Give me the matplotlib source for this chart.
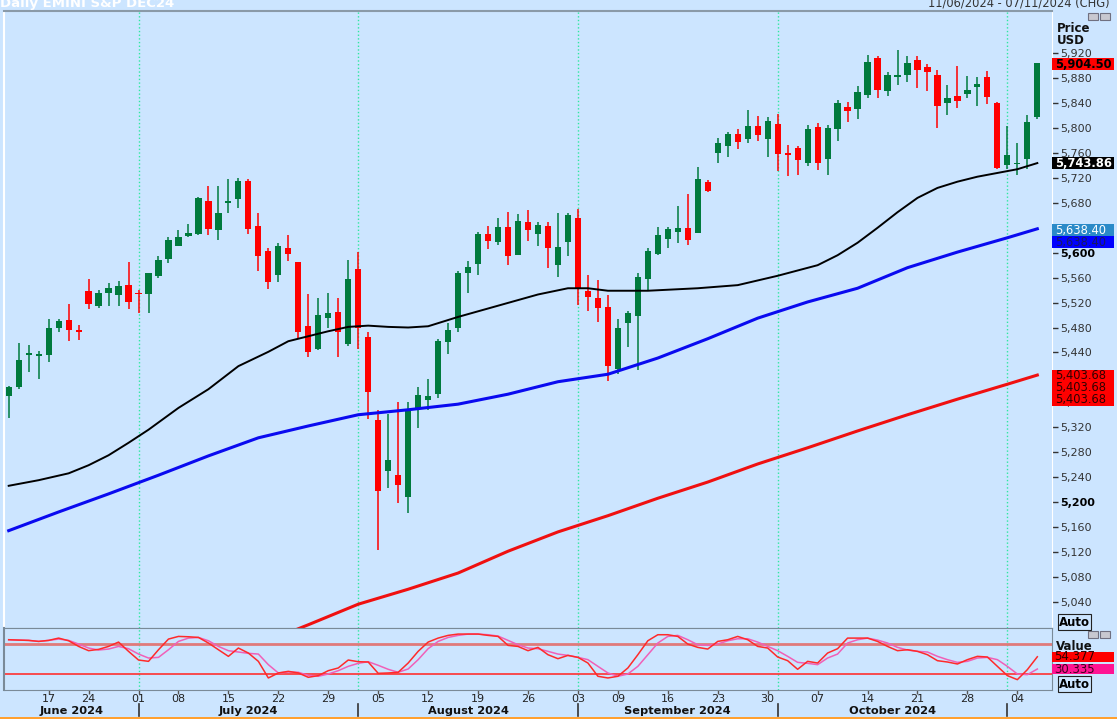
import numpy as np
import matplotlib.pyplot as plt
from matplotlib.patches import Rectangle
from matplotlib.transforms import blended_transform_factory

BG = '#cce5ff'
UP = '#007a3d'
DN = '#ff0000'

# daily OHLC, 11 Jun 2024 - 06 Nov 2024
opens = [5370, 5385, 5436, 5435, 5436, 5480, 5492, 5476, 5539, 5515,
         5535, 5532, 5548, 5535, 5533, 5563, 5590, 5611, 5627, 5630,
         5683, 5637, 5679, 5687, 5715, 5643, 5602, 5564, 5608, 5585,
         5483, 5445, 5496, 5505, 5453, 5574, 5464, 5332, 5250, 5243,
         5208, 5349, 5364, 5373, 5457, 5480, 5567, 5582, 5630, 5618,
         5642, 5596, 5650, 5630, 5643, 5580, 5617, 5656, 5539, 5528,
         5513, 5413, 5488, 5498, 5558, 5598, 5622, 5633, 5639, 5631,
         5714, 5760, 5772, 5791, 5782, 5803, 5782, 5806, 5760, 5768,
         5744, 5801, 5751, 5798, 5834, 5830, 5853, 5913, 5860, 5882,
         5886, 5909, 5898, 5886, 5841, 5852, 5855, 5866, 5882, 5840,
         5741, 5742, 5750, 5818]
highs = [5386, 5455, 5452, 5443, 5494, 5494, 5518, 5484, 5558, 5540,
         5552, 5555, 5585, 5540, 5568, 5595, 5626, 5636, 5646, 5690,
         5707, 5707, 5718, 5720, 5718, 5664, 5608, 5616, 5629, 5585,
         5533, 5528, 5535, 5528, 5588, 5601, 5473, 5348, 5342, 5361,
         5361, 5385, 5397, 5461, 5487, 5571, 5587, 5633, 5643, 5655,
         5665, 5662, 5668, 5649, 5649, 5663, 5664, 5670, 5564, 5557,
         5532, 5493, 5507, 5567, 5607, 5641, 5642, 5675, 5695, 5737,
         5717, 5784, 5794, 5798, 5829, 5820, 5818, 5822, 5773, 5771,
         5805, 5808, 5805, 5845, 5842, 5868, 5917, 5915, 5890, 5926,
         5915, 5915, 5903, 5893, 5869, 5900, 5884, 5882, 5892, 5842,
         5803, 5776, 5821, 5905]
lows = [5335, 5381, 5409, 5398, 5425, 5473, 5459, 5460, 5510, 5511,
        5515, 5515, 5510, 5504, 5503, 5559, 5584, 5610, 5626, 5629,
        5629, 5621, 5664, 5672, 5630, 5570, 5541, 5553, 5587, 5461,
        5432, 5444, 5480, 5432, 5451, 5445, 5333, 5123, 5222, 5198,
        5182, 5319, 5348, 5367, 5438, 5472, 5536, 5564, 5606, 5612,
        5581, 5596, 5619, 5611, 5575, 5561, 5594, 5516, 5506, 5489,
        5394, 5405, 5448, 5412, 5540, 5597, 5608, 5616, 5612, 5631,
        5698, 5744, 5754, 5766, 5776, 5780, 5754, 5731, 5723, 5724,
        5739, 5733, 5724, 5780, 5810, 5814, 5848, 5848, 5852, 5869,
        5874, 5864, 5860, 5800, 5821, 5833, 5848, 5836, 5838, 5734,
        5735, 5724, 5735, 5814]
closes = [5384, 5428, 5439, 5437, 5479, 5490, 5476, 5472, 5517, 5536,
          5543, 5546, 5521, 5534, 5568, 5589, 5621, 5625, 5631, 5688,
          5638, 5664, 5683, 5715, 5638, 5594, 5553, 5611, 5598, 5472,
          5441, 5500, 5503, 5472, 5558, 5479, 5376, 5218, 5267, 5228,
          5348, 5371, 5370, 5459, 5476, 5567, 5577, 5630, 5619, 5641,
          5594, 5651, 5636, 5644, 5608, 5609, 5660, 5543, 5529, 5512,
          5419, 5480, 5504, 5561, 5602, 5629, 5638, 5639, 5620, 5718,
          5699, 5776, 5791, 5778, 5803, 5789, 5812, 5758, 5757, 5748,
          5798, 5744, 5800, 5841, 5827, 5858, 5906, 5861, 5886, 5886,
          5904, 5894, 5890, 5836, 5848, 5844, 5861, 5870, 5850, 5736,
          5757, 5744, 5810, 5904.5]

# moving averages read at sample bars
ma_black_idx = [0, 3, 6, 8, 10, 12, 14, 17, 20, 23, 26, 28, 30, 32, 34, 36, 38, 40,
                42, 45, 49, 53, 56, 58, 60, 64, 69, 73, 77, 81, 83, 85, 87, 89, 91,
                93, 95, 97, 99, 101, 103]
ma_black = [5226, 5235, 5246, 5259, 5275, 5295, 5316, 5351, 5381, 5418, 5441, 5458,
            5466, 5474, 5481, 5483, 5481, 5480, 5482, 5497, 5515, 5533, 5543, 5543,
            5539, 5539, 5543, 5548, 5563, 5580, 5596, 5616, 5640, 5665, 5688, 5704,
            5714, 5722, 5728, 5734, 5743.86]
ma_blue_idx = [0, 5, 10, 15, 20, 25, 30, 35, 40, 45, 50, 55, 60, 65, 70, 75, 80, 85,
               90, 95, 100, 103]
ma_blue = [5154, 5184, 5213, 5243, 5274, 5303, 5322, 5340, 5348, 5357, 5373, 5393,
           5405, 5431, 5462, 5495, 5521, 5543, 5576, 5601, 5624, 5638.40]
ma_red_idx = [25, 30, 35, 40, 45, 50, 55, 60, 65, 70, 75, 80, 85, 90, 95, 100, 103]
ma_red = [4971, 5003, 5036, 5060, 5086, 5121, 5152, 5178, 5206, 5232, 5261, 5287,
          5314, 5340, 5365, 5389, 5403.68]

# stochastic oscillator
stoch_k = [87.8, 87.1, 86.5, 84.5, 86.5, 91.0, 85.8, 74.7, 66.3, 68.9,
           74.7, 83.2, 65.0, 48.0, 45.4, 68.2, 89.1, 94.3, 93.6, 92.3,
           81.3, 68.2, 55.2, 71.5, 61.7, 45.4, 12.8, 22.6, 25.8, 22.6,
           14.1, 17.4, 27.1, 32.4, 48.0, 44.7, 44.1, 21.9, 22.6, 23.9,
           42.1, 65.0, 83.2, 91.0, 96.3, 98.9, 98.9, 98.9, 96.3, 94.3,
           76.7, 74.7, 66.3, 72.8, 58.4, 50.6, 57.1, 53.2, 42.1, 16.1,
           12.8, 16.1, 32.4, 58.4, 85.8, 97.6, 97.6, 94.3, 79.3, 72.8,
           69.5, 84.5, 87.8, 94.3, 87.8, 74.7, 71.5, 53.9, 46.7, 29.8,
           45.4, 42.1, 61.7, 70.2, 91.0, 91.0, 91.0, 84.5, 74.7, 66.3,
           68.2, 65.0, 58.4, 46.7, 44.1, 40.2, 48.7, 55.2, 53.9, 35.6,
           17.4, 9.5, 29.1, 54.377]
stoch_d = [87.8, 87.1, 86.5, 84.5, 86.5, 89.1, 86.5, 79.3, 71.5, 67.6,
           69.5, 74.7, 70.2, 59.7, 51.9, 53.2, 68.2, 84.5, 91.0, 92.3,
           85.8, 74.7, 66.3, 63.7, 61.1, 59.7, 38.9, 22.6, 24.5, 23.9,
           18.0, 16.1, 20.6, 27.1, 35.6, 41.5, 44.7, 37.6, 29.8, 23.9,
           30.4, 48.7, 70.2, 84.5, 92.3, 96.3, 98.9, 98.9, 97.6, 95.0,
           86.5, 78.0, 71.5, 70.2, 65.0, 59.7, 57.1, 53.2, 48.7, 35.6,
           22.6, 16.1, 20.6, 35.6, 58.4, 81.3, 94.3, 96.3, 87.8, 78.0,
           76.7, 79.3, 85.8, 89.7, 89.7, 83.2, 74.7, 66.3, 55.2, 43.4,
           41.5, 38.9, 51.9, 59.7, 81.3, 87.8, 91.0, 87.1, 81.3, 72.8,
           67.6, 65.0, 63.7, 55.2, 48.7, 43.4, 45.4, 51.9, 53.2, 48.7,
           35.6, 20.6, 19.3, 30.335]

day_idx = [4, 8, 13, 17, 22, 27, 32, 37, 42, 47, 52, 57, 61, 66, 71, 76, 81, 86, 91, 96, 101]
day_lbl = ['17', '24', '01', '08', '15', '22', '29', '05', '12', '19', '26',
           '03', '09', '16', '23', '30', '07', '14', '21', '28', '04']
month_start = [13, 35, 57, 77, 100]
month_names = ['June 2024', 'July 2024', 'August 2024', 'September 2024', 'October 2024']

W, H = 1117, 719
def fx(px):
    return px / W
def fy(py):
    return 1 - py / H

fig = plt.figure(figsize=(W / 100, H / 100), dpi=100, facecolor=BG)
ax = fig.add_axes([fx(4), fy(628), fx(1052) - fx(4), fy(11) - fy(628)], facecolor=BG)
ao = fig.add_axes([fx(4), fy(690), fx(1052) - fx(4), fy(628) - fy(690)], facecolor=BG, sharex=ax)

x = np.arange(len(opens))
o = np.array(opens); h = np.array(highs); l = np.array(lows); c = np.array(closes)
col = np.where(c >= o, UP, DN)

for m in month_start:
    ax.axvline(m, color='#2ee8a0', ls=':', lw=1, zorder=1)
    ao.axvline(m, color='#2ee8a0', ls=':', lw=1, zorder=1)

ax.vlines(x, l, h, colors=col, lw=1.1, zorder=3)
body = np.maximum(np.abs(c - o), 1.6)
ax.bar(x, body, bottom=np.minimum(o, c), width=0.62, color=col, zorder=4, linewidth=0)

ax.plot(ma_black_idx, ma_black, color='black', lw=1.4, zorder=5)
ax.plot(ma_blue_idx, ma_blue, color='#0a0af0', lw=2.2, zorder=5)
ax.plot(ma_red_idx, ma_red, color='#f01010', lw=2.2, zorder=5)

ax.set_xlim(-0.47, 104.47)
ax.set_ylim(4997.8, 5987.9)
ticks = np.arange(5040, 5921, 40)
ax.yaxis.tick_right()
ax.set_yticks(ticks)
# 5,640 and 5,400 sit under the price tags
ax.set_yticklabels(['' if t in (5640, 5400) else '{:,}'.format(t) for t in ticks])
ax.tick_params(axis='y', direction='out', length=4, width=1, colors='#333333',
               labelsize=8, pad=2)
for t, lab in zip(ticks, ax.get_yticklabels()):
    if t in (5200, 5600):
        lab.set_fontweight('bold')
        lab.set_color('black')
ax.tick_params(axis='x', bottom=False, labelbottom=False)
ax.spines['left'].set_color('white')
ax.spines['left'].set_linewidth(1.5)
ax.spines['right'].set_color('white')
ax.spines['top'].set_color('#8a9aa8')
ax.spines['top'].set_linewidth(1.5)
ax.spines['bottom'].set_color('#7a8a98')

# price tags on the right edge
tr = blended_transform_factory(ax.transAxes, ax.transData)
def tag(y, txt, fc, tc, bold=False):
    ax.add_patch(Rectangle((1.0, y - 9.6), 0.0595, 19.2, transform=tr, fc=fc, ec='none',
                           clip_on=False, zorder=9))
    ax.text(1.003, y, txt, transform=tr, ha='left', va='center', fontsize=8.3,
            color=tc, fontweight='bold' if bold else 'normal', clip_on=False, zorder=10)

tag(5902.5, '5,904.50', '#ff0000', 'black', True)
tag(5743.86, '5,743.86', 'black', 'white', True)
tag(5636.4, '5,638.40', '#2a8ac8', 'white')
tag(5617.2, '5,638.40', '#0000ff', '#1a1a60')
tag(5402.6, '5,403.68', '#ff0000', '#300000')
tag(5383.4, '5,403.68', '#ff0000', '#300000')
tag(5364.2, '5,403.68', '#ff0000', '#300000')

# oscillator
ao.axhline(80, color='#e07a7a', lw=2, zorder=2)
ao.axhline(20, color='#ff3030', lw=1.2, zorder=2)
ao.plot(x, stoch_d, color='#f060b8', lw=1.1, zorder=3)
ao.plot(x, stoch_k, color='#ff2a2a', lw=1.1, zorder=4)
ao.set_ylim(-10.8, 110.8)
ao.set_yticks([])
ao.set_xticks(day_idx)
ao.set_xticklabels(day_lbl)
ao.tick_params(axis='x', direction='out', length=3, width=1, colors='#555555',
               labelsize=8, pad=0, labelcolor='#222222')
for s in ['left', 'bottom', 'top', 'right']:
    ao.spines[s].set_color('#7a8a98')
ao.spines['left'].set_linewidth(1.5)

tro = blended_transform_factory(ao.transAxes, ao.transData)
def vtag(v, txt, fc, tc):
    ao.add_patch(Rectangle((1.0, v - 9.5), 0.0595, 19, transform=tro, fc=fc, ec='none',
                           clip_on=False, zorder=9))
    ao.text(1.002, v, txt, transform=tro, ha='left', va='center', fontsize=8.5,
            color=tc, clip_on=False, zorder=10)

vtag(54.377, '54.377', '#ff0000', '#300000')
vtag(30.335, '30.335', '#ff1493', '#400020')

trm = blended_transform_factory(ao.transData, fig.transFigure)
edges = [-0.47] + month_start
for i, name in enumerate(month_names):
    ao.text((edges[i] + edges[i + 1]) / 2, fy(711.5), name, transform=trm, ha='center',
            va='center', fontsize=8.2, fontweight='bold', color='#111111')
for m in month_start:
    ao.plot([m, m], [fy(704), fy(716)], transform=trm, color='#333333', lw=1.2,
            clip_on=False)

# header and side texts
fig.text(0.0, fy(6.5), 'Daily EMINI S&P DEC24', color='white', fontweight='bold',
         fontsize=9.5, va='baseline', ha='left')
fig.text(fx(1110), fy(6.5), '11/06/2024 - 07/11/2024 (CHG)', color='#333333',
         fontsize=8.3, va='baseline', ha='right')
fig.text(fx(1057), fy(28), 'Price', fontweight='bold', fontsize=8.5, va='center',
         color='#111111')
fig.text(fx(1057), fy(41), 'USD', fontweight='bold', fontsize=8.5, va='center',
         color='#111111')
fig.text(fx(1056), fy(646), 'Value', fontweight='bold', fontsize=8.5, va='center',
         color='#111111')
for py in (622, 684):
    fig.text(fx(1059), fy(py), 'Auto', fontweight='bold', fontsize=8.5, va='center',
             color='black', bbox=dict(boxstyle='square,pad=0.1', fc=BG, ec='#222222', lw=0.8))

for py in (13, 631):
    for px0 in (1088, 1100):
        fig.patches.append(Rectangle((fx(px0), fy(py + 7)), fx(10) - fx(0), fy(0) - fy(7),
                                     transform=fig.transFigure, fc='#c8c8d0', ec='#707080',
                                     lw=0.8))
fig.patches.append(Rectangle((0, 0), 1, fy(717), transform=fig.transFigure,
                             fc='#ffa030', ec='none'))

fig.savefig('out.png', dpi=100, facecolor=BG)
